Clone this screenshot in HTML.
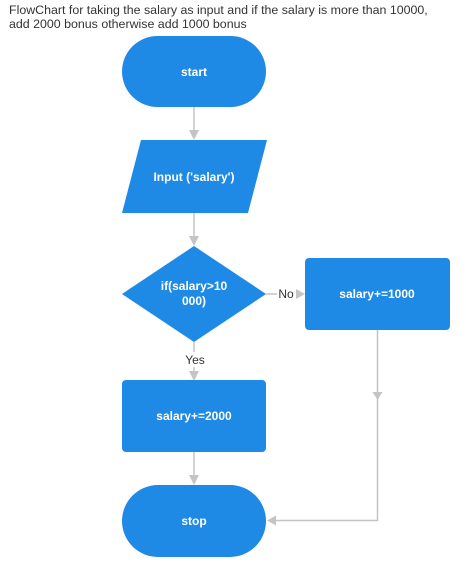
<!DOCTYPE html>
<html><head><style>
html,body{margin:0;padding:0;background:#fff;width:466px;height:583px;overflow:hidden}
.t{position:absolute;left:9px;top:3px;font:12.4px/14px "Liberation Sans",sans-serif;color:#333;white-space:nowrap}
svg{position:absolute;left:0;top:0}
text{font-family:"Liberation Sans",sans-serif}
</style></head><body>
<div class="t">FlowChart for taking the salary as input and if the salary is more than 10000,<br>add 2000 bonus otherwise add 1000 bonus</div>
<svg width="466" height="583">
<g stroke="#c4c4c4" stroke-width="1.5" fill="none">
<line x1="194" y1="107" x2="194" y2="132"/>
<line x1="194" y1="213" x2="194" y2="238"/>
<line x1="266" y1="294" x2="277" y2="294"/>
<line x1="194" y1="342" x2="194" y2="352"/>
<line x1="194" y1="367" x2="194" y2="372"/>
<line x1="194" y1="452" x2="194" y2="477"/>
<polyline points="377.5,330 377.5,520.5 274,520.5"/>
</g>
<g fill="#c4c4c4">
<polygon points="189,130 199,130 194,140"/>
<polygon points="189,236 199,236 194,246"/>
<polygon points="296,289 296,299 305,294"/>
<polygon points="189,371 199,371 194,381"/>
<polygon points="189,475 199,475 194,485"/>
<polygon points="372.5,392 382.5,392 377.5,400"/>
<polygon points="276,515.5 276,525.5 267,520.5"/>
</g>
<g fill="#1e8ae5">
<rect x="122" y="36" width="144" height="71" rx="35.5"/>
<polygon points="141,140 267,140 248,213 122,213"/>
<polygon points="194,246 266,294 194,342 122,294"/>
<rect x="305" y="258" width="145" height="72" rx="4"/>
<rect x="122" y="380" width="144" height="72" rx="4"/>
<rect x="122" y="485" width="144" height="72" rx="36"/>
</g>
<g fill="#fff" font-size="12" font-weight="bold" text-anchor="middle">
<text x="194" y="76">start</text>
<text x="194" y="181">Input ('salary')</text>
<text x="194" y="290">if(salary&gt;10</text>
<text x="194" y="305">000)</text>
<text x="377" y="298">salary+=1000</text>
<text x="194" y="420">salary+=2000</text>
<text x="194" y="525">stop</text>
</g>
<g fill="#333" font-size="12" text-anchor="middle">
<text x="286" y="298">No</text>
<text x="195" y="364">Yes</text>
</g>
</svg>
</body></html>
